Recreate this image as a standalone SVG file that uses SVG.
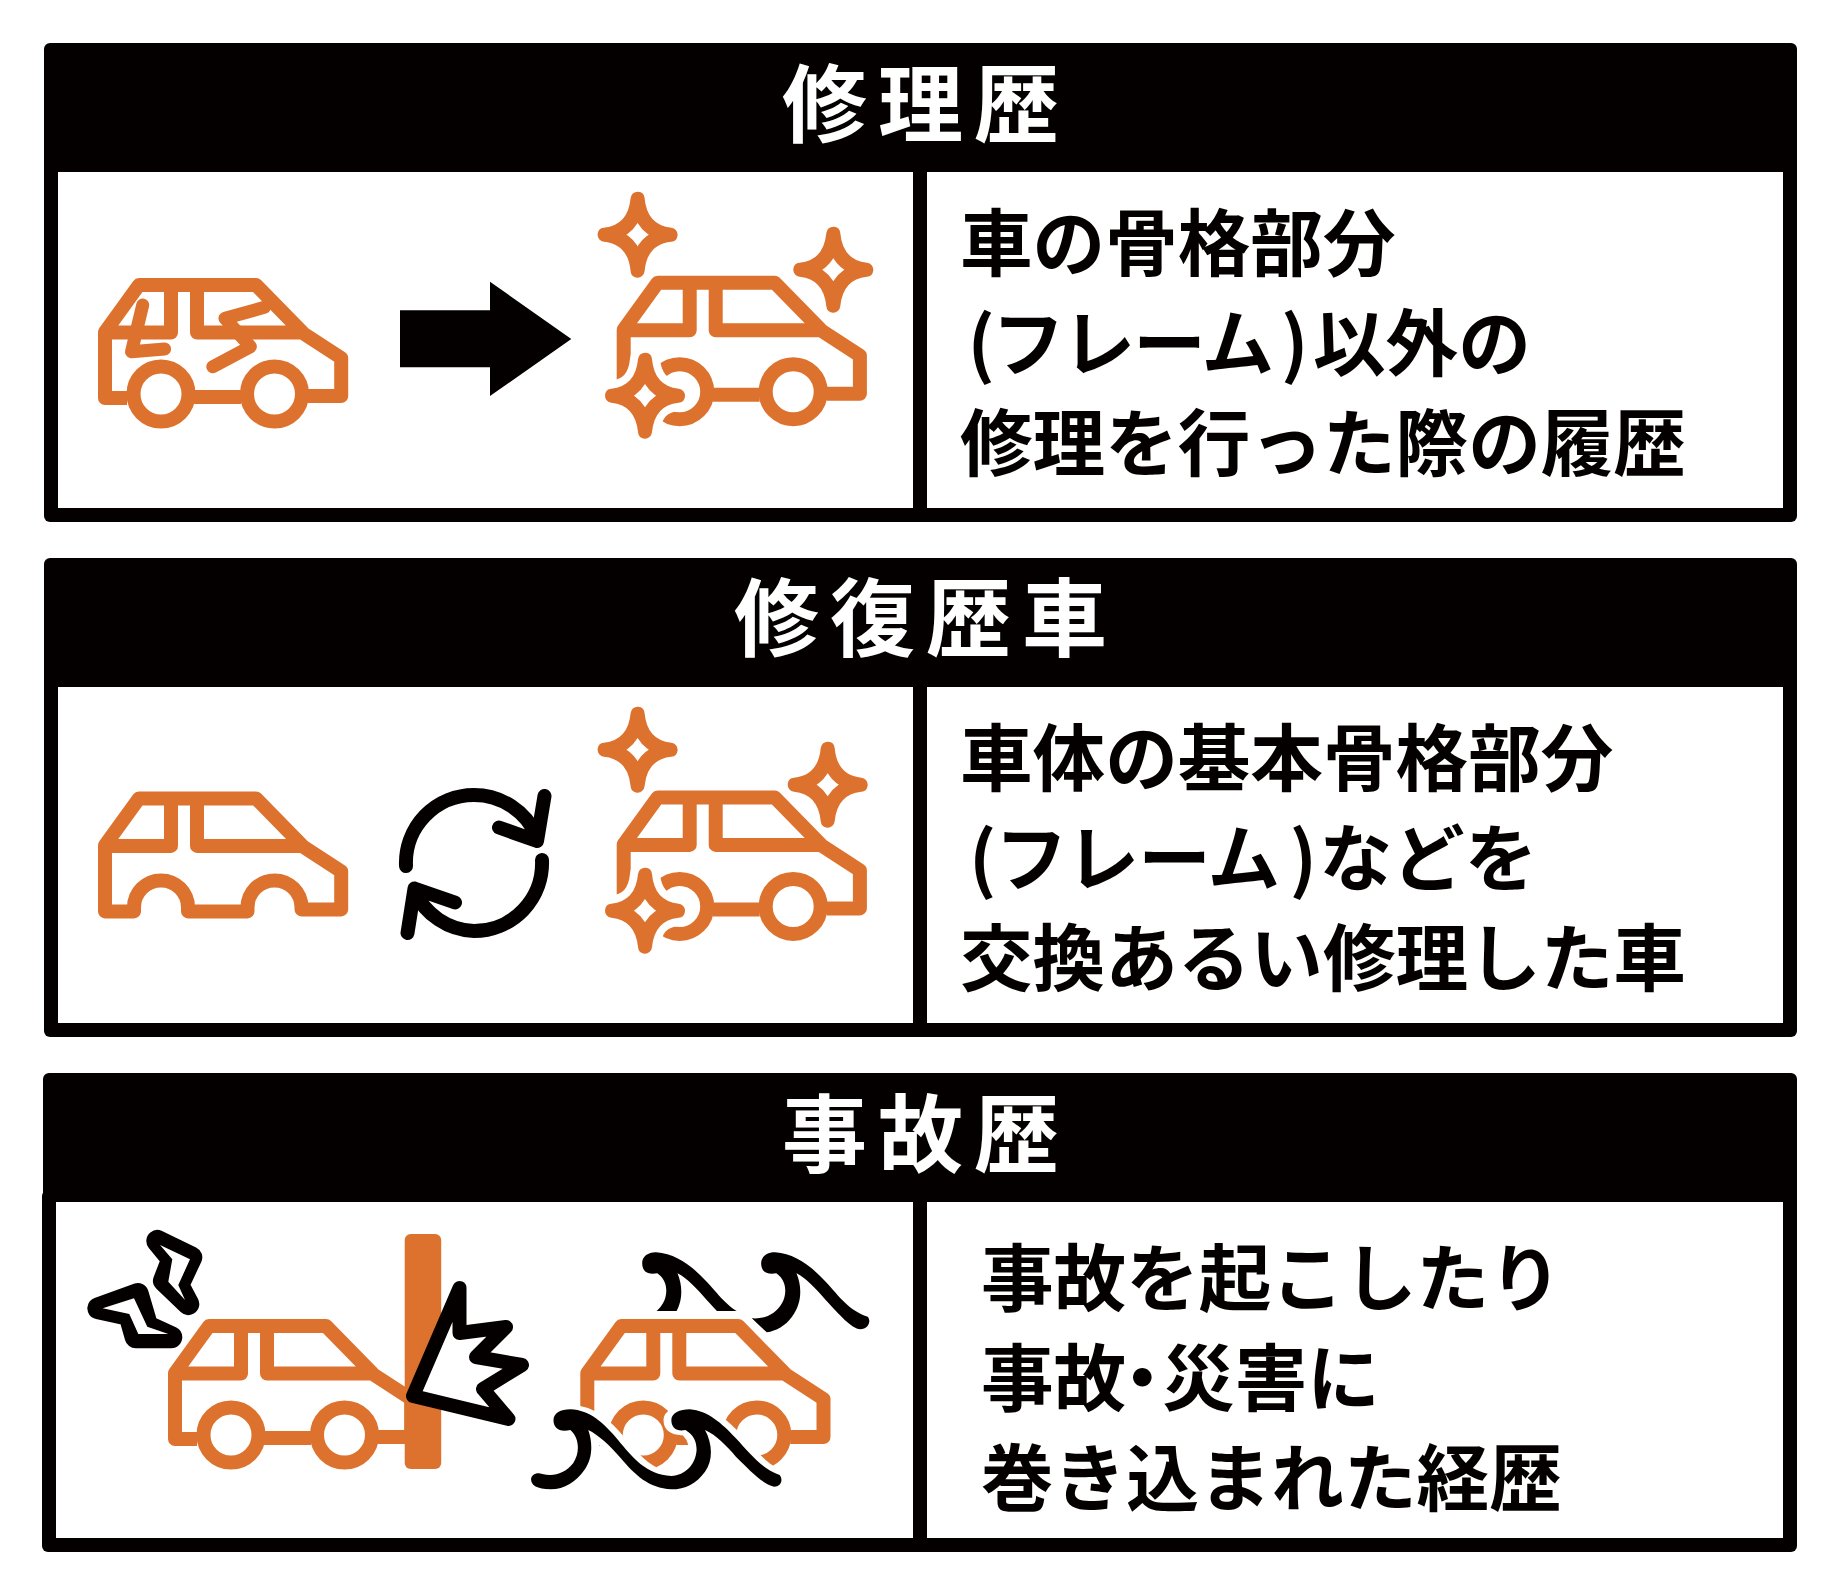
<svg xmlns="http://www.w3.org/2000/svg" width="1840" height="1595" viewBox="0 0 1840 1595">
<style>
.frame{fill:#040000}
.pane{fill:#fff}
.h{font-family:"Noto Sans CJK JP","Noto Sans",sans-serif;font-weight:700;font-size:85px;letter-spacing:11px;fill:#fff;text-anchor:middle}
.b{font-family:"Noto Sans CJK JP","Noto Sans",sans-serif;font-weight:700;font-size:72.6px;fill:#040000}
.o{fill:none;stroke:#DD722E;stroke-width:14;stroke-linejoin:round;stroke-linecap:butt}
.cr{stroke-linecap:round;stroke-width:13}
.k{fill:none;stroke:#040000;stroke-width:14;stroke-linejoin:round;stroke-linecap:round}
.kw{fill:#fff;stroke:#040000;stroke-width:14;stroke-linejoin:round}
.bolt{fill:#040000;stroke:#040000;stroke-width:22;stroke-linejoin:round}
.star{fill:#fff;stroke:#DD722E;stroke-width:14;stroke-linejoin:round}
.halo{fill:#fff;stroke:#fff;stroke-width:30;stroke-linejoin:round}
.wave{fill:#040000}
.wh{fill:#fff;stroke:#fff;stroke-width:28;stroke-linejoin:round;vector-effect:non-scaling-stroke}
</style>
<defs>
<path id="sp" d="M0 -36Q3 -3 33 0Q3 3 0 36Q-3 3 -33 0Q-3 -3 0 -36Z"/>
<path id="bodyTop" d="M127 398H105V332L139 285H256L303.5 333.5L341.2 358V396H308M105 332.5H171V285M197 285V332.5H302"/>
<g id="car"><use href="#bodyTop" class="o"/><path class="o" d="M194 397H241"/><circle class="o" cx="161" cy="394" r="27.5"/><circle class="o" cx="274.5" cy="394" r="27.5"/></g>
<path id="w2" d="M1475 350C1482 365 1475 388 1462 388C1445 385 1425 345 1400 300C1380 262 1365 235 1348 220C1358 260 1358 310 1340 350C1328 378 1312 392 1295 397L1268 355C1290 358 1310 345 1322 310C1332 280 1330 240 1312 220C1295 225 1285 215 1285 190C1285 168 1297 156 1310 157C1345 160 1375 200 1400 245C1425 290 1440 330 1475 350Z"/>
<path id="wl" d="M875 838C875 825 885 815 895 822C915 830 935 822 950 790C962 760 962 715 945 690C925 697 915 685 915 660C915 640 928 628 945 628C980 630 1005 670 1030 720C1055 770 1080 825 1125 828C1150 825 1168 795 1170 750C1170 725 1165 705 1150 690C1135 695 1125 685 1125 660C1125 640 1140 628 1158 628C1190 632 1215 670 1240 715C1265 760 1285 805 1318 825C1325 840 1320 860 1308 860C1285 850 1265 810 1240 770C1225 740 1205 705 1185 690C1198 730 1200 780 1185 815C1170 850 1150 868 1125 868C1085 865 1060 825 1035 775C1015 735 995 705 977 690C985 730 985 775 970 810C955 845 935 868 910 868C885 868 875 855 875 838Z"/>
</defs>
<rect width="1840" height="1595" fill="#fff"/>

<g id="panel-repair">
<rect class="frame" x="44" y="43" width="1753" height="479" rx="6"/>
<rect class="pane" x="58" y="172" width="855" height="336"/>
<rect class="pane" x="927" y="172" width="856" height="336"/>
<text class="h" x="926" y="136">修理歴</text>
<text class="b" y="270"><tspan x="960">車の骨格部分</tspan></text>
<text class="b" y="370"><tspan x="967.5">(</tspan><tspan x="992" letter-spacing="-2">フレーム</tspan><tspan x="1281">)</tspan><tspan x="1313">以外の</tspan></text>
<text class="b" y="470"><tspan x="960">修理を行った際の履歴</tspan></text>
<g id="car-damaged">
<use href="#car"/>
<path class="o cr" d="M142.7 305L131.5 351.7L164.6 349"/>
<path class="o cr" d="M264.4 307.3L225 318.3L250.4 346.7L212.8 366.7"/>
</g>
<polygon id="arrow" fill="#040000" points="400,310.3 490,310.3 490,281.7 571.3,339 490,396 490,367.3 400,367.3"/>
<g id="car-repaired">
<use href="#car" x="518.7" y="-2.3"/>
<use href="#sp" class="halo" x="645" y="395.7"/>
<use href="#sp" class="star" x="645" y="395.7"/>
<use href="#sp" class="star" x="637.6" y="234.7"/>
<use href="#sp" class="star" x="833.3" y="269.7"/>
</g>
</g>

<g id="panel-restored">
<rect class="frame" x="44" y="558" width="1753" height="479" rx="6"/>
<rect class="pane" x="58" y="687" width="855" height="336"/>
<rect class="pane" x="927" y="687" width="856" height="336"/>
<text class="h" x="926" y="650">修復歴車</text>
<text class="b" y="785"><tspan x="960">車体の基本骨格部分</tspan></text>
<text class="b" y="885"><tspan x="969">(</tspan><tspan x="995" letter-spacing="-1">フレーム</tspan><tspan x="1289.5">)</tspan><tspan x="1319.5">などを</tspan></text>
<text class="b" y="985"><tspan x="960">交換あるい修理した車</tspan></text>
<g id="car-stripped" transform="translate(0 513.4)">
<path class="o" d="M105 332V398H134V394A27 27 0 0 1 188 394V398H247.5V394A27 27 0 0 1 301.5 394V396H341.2V358L303.5 333.5L256 285H139ZM105 332.5H171V285M197 285V332.5H302"/>
</g>
<g id="refresh">
<path class="k" d="M406 866A68 68 0 0 1 474 795A68 68 0 0 1 536.5 836M544.5 796L537 841L499 827.5"/>
<path class="k" d="M542 860A68 68 0 0 1 474 931A68 68 0 0 1 414.5 891M407.5 933L414.5 888.5L455 902.5"/>
</g>
<g id="car-restored">
<use href="#car" x="518.7" y="512.4"/>
<use href="#sp" class="halo" x="645" y="910.7"/>
<use href="#sp" class="star" x="645" y="910.7"/>
<use href="#sp" class="star" x="637.6" y="749.7"/>
<use href="#sp" class="star" x="827.7" y="784.7"/>
</g>
</g>

<g id="panel-accident">
<rect class="frame" x="43" y="1073" width="1754" height="130" rx="6"/>
<rect class="frame" x="42" y="1190" width="1755" height="362" rx="6"/>
<rect class="pane" x="56" y="1202" width="857" height="336"/>
<rect class="pane" x="927" y="1202" width="856" height="336"/>
<text class="h" x="926" y="1166">事故歴</text>
<text class="b" y="1305"><tspan x="981">事故を起こしたり</tspan></text>
<text class="b" y="1405"><tspan x="981">事故</tspan><tspan x="1106">・</tspan><tspan x="1162">災害に</tspan></text>
<text class="b" y="1505"><tspan x="981">巻き込まれた経歴</tspan></text>
<g id="car-crash">
<use href="#car" x="70" y="1041"/>
<rect x="404.7" y="1234" width="36.5" height="235" rx="6" fill="#DD722E"/>
<polygon class="kw" points="413,1396 459.5,1288 459.5,1333 506,1327 476,1357 522,1365 483,1389 508.5,1419"/>
<polygon class="bolt" points="157.3,1241 191.3,1257.3 178.3,1285 188.3,1304 164,1280.7 172.3,1259.3"/>
<polygon fill="#fff" points="160,1245 190,1259.3 178.3,1285 185,1300 168.3,1281.7 172.3,1259.3"/>
<polygon class="bolt" points="137.7,1294 98.3,1308.3 129.3,1315 135.7,1337.3 171.3,1337.3 147.3,1326.3"/>
<polygon fill="#fff" points="102.7,1308.3 134,1298.3 147.3,1326.7 168.3,1334 138.3,1334 129.3,1314"/>
</g>
<g id="car-flood">
<g transform="translate(40 1200) scale(.5612 .33333)">
<use href="#w2" class="wave"/>
<use href="#w2" class="wave" x="-212"/>
</g>
<path transform="translate(482.3 1041)" fill="none" stroke="#fff" stroke-width="30" stroke-linejoin="round" d="M105 332L139 285H256L303.5 333.5"/>
<use href="#car" x="482.3" y="1041"/>
<g transform="translate(40 1200) scale(.5612 .33333)">
<use href="#wl" class="wh"/>
<use href="#wl" class="wave"/>
</g>
</g>
</g>
</svg>
